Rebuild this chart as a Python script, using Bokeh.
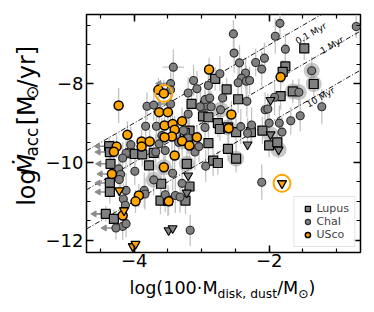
import numpy as np
from bokeh.plotting import figure
from bokeh.layouts import column, row
from bokeh.models import Range1d, LinearAxis, FixedTicker, Label, Legend, LegendItem
from bokeh.core.properties import value
from bokeh.embed import file_html
from bokeh.resources import INLINE

FONT = "DejaVu Sans"

# ---------------- data ----------------
# Lupus (squares)
lup_x = [-1.48, -1.76, -1.83, -1.34, -1.65, -2.63, -2.46, -2.80, -1.80, -3.15, -2.95, -2.98,
         -2.90, -2.76, -2.73, -2.61, -2.49, -2.27, -2.10, -3.18, -2.90, -2.61, -2.49, -2.83,
         -2.76, -3.22, -2.00, -1.88, -4.37, -4.36, -4.35, -4.36, -4.36, -4.42, -4.30, -4.06,
         -3.99, -3.88, -3.71, -3.78, -3.60, -3.61, -3.50, -3.18, -3.24, -3.25, -3.20]
lup_y = [-7.09, -7.55, -8.31, -8.00, -8.19, -8.14, -8.39, -7.87, -7.69, -8.51, -8.55, -8.83,
         -8.85, -9.00, -9.15, -9.11, -9.23, -9.23, -9.19, -9.19, -9.51, -9.66, -9.91, -9.96,
         -10.02, -10.04, -9.57, -9.49, -9.59, -9.74, -10.04, -10.53, -10.76, -11.32, -11.45, -9.77,
         -9.79, -9.80, -9.76, -10.08, -10.55, -10.98, -10.98, -10.62, -10.98, -9.25, -9.42]
lup_err = [0.30, 0.25, 0.35, 0.30, 0.30, 0.30, 0.35, 0.30, 0.30, 0.30, 0.35, 0.30,
           0.40, 0.35, 0.30, 0.30, 0.35, 0.30, 0.35, 0.30, 0.35, 0.30, 0.35, 0.40,
           0.30, 0.35, 0.30, 0.30, 0.25, 0.30, 0.30, 0.30, 0.30, 0.20, 0.25, 0.35,
           0.30, 0.30, 0.35, 0.40, 0.35, 0.35, 0.40, 0.35, 0.35, 0.40, 0.35]

# Cha I (circles)
cha_x = [-0.71, -1.84, -1.91, -1.76, -2.53, -2.52, -2.44, -2.20, -2.07, -2.11, -2.35, -2.41,
         -2.46, -2.34, -2.29, -2.73, -3.12, -3.07, -3.20, -3.42, -3.46, -3.46, -2.95, -2.88,
         -2.69, -3.02, -2.86, -3.81, -3.71, -2.33, -1.92, -2.06, -2.72, -1.68, -1.54, -1.22,
         -1.37, -1.56, -2.26, -2.32, -2.42, -2.02, -1.85, -2.00, -1.81, -3.83, -3.67, -4.05,
         -4.12, -4.17, -3.99, -4.23, -4.20, -4.22, -4.12, -4.16, -4.13, -4.17, -4.27, -4.12,
         -3.85, -3.84, -3.71, -3.43, -3.29, -3.39, -3.32, -3.54, -3.17, -2.11, -2.94, -3.10,
         -3.04, -2.95, -3.20, -3.59, -3.63, -3.34, -3.27, -3.46, -2.90, -3.68, -3.54, -3.20]
cha_y = [-6.53, -6.45, -6.78, -7.11, -6.72, -7.21, -7.46, -7.45, -7.34, -7.62, -7.72, -7.85,
         -7.97, -7.93, -7.91, -7.74, -7.91, -8.12, -8.23, -7.57, -7.99, -8.15, -8.40, -8.36,
         -8.36, -8.58, -8.58, -8.57, -8.54, -8.44, -8.34, -8.66, -8.66, -8.94, -8.81, -8.58,
         -7.66, -8.21, -9.05, -9.26, -9.09, -8.64, -9.00, -9.00, -9.23, -9.08, -9.08, -9.55,
         -9.77, -9.89, -10.23, -10.17, -10.31, -10.44, -10.72, -10.94, -11.10, -11.64, -11.68, -11.57,
         -10.72, -10.81, -10.45, -10.28, -10.54, -10.85, -10.89, -10.83, -11.74, -10.51, -10.10, -9.74,
         -9.60, -9.11, -8.77, -9.32, -9.53, -9.49, -9.19, -8.51, -8.04, -9.74, -9.70, -9.38]
cha_err = [0.30, 0.35, 0.45, 0.40, 0.35, 0.50, 0.45, 0.35, 0.40, 0.45, 0.40, 0.45,
           0.45, 0.40, 0.35, 0.45, 0.40, 0.45, 0.40, 0.45, 0.35, 0.40, 0.45, 0.40,
           0.40, 0.45, 0.40, 0.35, 0.40, 0.40, 0.45, 0.45, 0.40, 0.35, 0.40, 0.45,
           0.35, 0.35, 0.45, 0.40, 0.45, 0.40, 0.45, 0.40, 0.40, 0.45, 0.40, 0.45,
           0.40, 0.40, 0.35, 0.40, 0.40, 0.45, 0.45, 0.40, 0.40, 0.35, 0.30, 0.35,
           0.45, 0.40, 0.40, 0.45, 0.45, 0.45, 0.40, 0.45, 0.40, 0.45, 0.40, 0.45,
           0.40, 0.50, 0.45, 0.45, 0.40, 0.45, 0.40, 0.40, 0.40, 0.45, 0.40, 0.40]
cha_xerr_x = [-3.42]
cha_xerr_y = [-7.57]
cha_xerr = [0.16]

# non-detections in accretion (downward triangles)
lim_x = [-1.98, -2.32, -3.20, -3.22, -3.49, -3.43, -1.98, -1.86]
lim_y = [-8.41, -9.55, -10.34, -10.78, -11.74, -11.69, -9.29, -9.68]

# Upper Sco (orange)
usc_x = [-4.23, -3.64, -3.56, -2.89, -3.63, -3.50, -3.55, -3.43, -3.40, -3.44, -3.55, -3.29,
         -3.29, -3.18, -3.07, -2.56, -2.60, -1.83, -4.10, -3.89, -3.89, -3.77, -4.26, -4.30,
         -4.33, -3.56, -3.40, -3.93, -3.98, -3.49, -4.17]
usc_y = [-8.55, -8.15, -8.24, -7.63, -8.72, -8.72, -9.06, -9.02, -9.17, -9.34, -9.36, -8.95,
         -9.46, -9.57, -9.36, -8.78, -9.13, -7.82, -9.30, -9.47, -9.60, -9.47, -9.60, -9.73,
         -10.30, -10.13, -9.83, -10.85, -11.00, -11.00, -11.36]
usc_err = [0.45, 0.30, 0.35, 0.30, 0.35, 0.30, 0.35, 0.30, 0.35, 0.40, 0.35, 0.35,
           0.40, 0.35, 0.30, 0.35, 0.40, 0.30, 0.35, 0.30, 0.30, 0.30, 0.30, 0.30,
           0.35, 0.40, 0.35, 0.30, 0.30, 0.35, 0.30]
usc_lim_x = [-4.22, -4.15, -4.02, -3.98, -1.81]
usc_lim_y = [-10.72, -11.23, -12.15, -12.09, -10.54]

# disk-mass upper limits (leftward arrows)
xul_x = [-4.37, -4.36, -4.35, -4.33, -4.36, -4.36, -4.42, -4.27, -3.46, -3.46]
xul_y = [-9.59, -9.74, -10.04, -10.30, -10.53, -10.76, -11.32, -11.68, -7.99, -8.51]

# highlighted objects (grey halos / orange rings)
halo_x = [-1.34, -1.65, -2.61, -2.49, -3.22, -2.72, -1.37, -1.56, -3.71, -1.98, -1.86, -3.56, -3.29]
halo_y = [-8.00, -8.19, -9.11, -9.91, -10.04, -8.66, -7.66, -8.21, -10.45, -9.29, -9.68, -10.13, -9.46]
ring_x = [-3.56, -1.81]
ring_y = [-8.24, -10.54]

# isochrone ages (Myr)
ages = [0.1, 1, 10]
age_labels = ["0.1 Myr", "1 Myr", "10 Myr"]

x_major = [-4, -2]
y_major = [-12, -10, -8]

# ---------------- geometry ----------------
X0, X1 = -4.706, -0.647
Y0, Y1 = -12.307, -6.224
TOTAL_W = 366
YW = 42                      # width of the y-title strip
MW = TOTAL_W - YW            # main figure width
BL, BR, BT, BB = 84 - YW, 6, 14, 25
FW = MW - BL - BR            # 276
FH = 238
MH = BT + FH + BB            # 277
XH = 304 - MH                # height of the x-title strip

p = figure(width=MW, height=MH, x_range=Range1d(X0, X1), y_range=Range1d(Y0, Y1),
           output_backend="svg", toolbar_location=None,
           min_border_left=BL, min_border_right=BR, min_border_top=BT, min_border_bottom=BB)
p.grid.visible = False
p.outline_line_color = "black"
p.outline_line_width = 1.5


def minor(lo, hi):
    return list(np.arange(lo, hi + 0.001, 0.5))


def style_axis(ax, show_labels):
    ax.major_tick_in = 7
    ax.major_tick_out = 0
    ax.minor_tick_in = 4
    ax.minor_tick_out = 0
    ax.major_tick_line_width = 1.5
    ax.minor_tick_line_width = 1.2
    ax.axis_line_color = None
    ax.major_label_text_font = FONT
    if show_labels:
        ax.major_label_text_font_size = "18px"
        ax.major_label_text_color = "black"
        ax.major_label_standoff = 3
    else:
        ax.major_label_text_font_size = "0px"
        ax.major_label_text_color = None
        ax.major_label_standoff = 0


p.xaxis.ticker = FixedTicker(ticks=x_major, minor_ticks=minor(-4.5, -1.0))
p.yaxis.ticker = FixedTicker(ticks=y_major, minor_ticks=minor(-12.0, -6.5))
style_axis(p.xaxis[0], True)
style_axis(p.yaxis[0], True)
p.xaxis.major_label_standoff = 1
p.xaxis.major_label_overrides = {v: "\u2212" + str(abs(v)) for v in x_major}
p.yaxis.major_label_overrides = {v: "\u2212" + str(abs(v)) for v in y_major}

top = LinearAxis(ticker=FixedTicker(ticks=x_major, minor_ticks=minor(-4.5, -1.0)))
right = LinearAxis(ticker=FixedTicker(ticks=y_major, minor_ticks=minor(-12.0, -6.5)))
style_axis(top, False)
style_axis(right, False)
p.add_layout(top, "above")
p.add_layout(right, "right")

# ---------------- glyphs ----------------
ERR = "#c4c4c4"
GREY = "#808080"
ORANGE = "#FFA500"

for xs, ys, es in [(lup_x, lup_y, lup_err), (cha_x, cha_y, cha_err), (usc_x, usc_y, usc_err)]:
    xs = np.array(xs); ys = np.array(ys); es = np.array(es)
    p.segment(x0=xs, y0=ys - es, x1=xs, y1=ys + es, line_color=ERR, line_width=1.3)
xe = np.array(cha_xerr)
p.segment(x0=np.array(cha_xerr_x) - xe, y0=cha_xerr_y, x1=np.array(cha_xerr_x) + xe, y1=cha_xerr_y,
          line_color=ERR, line_width=1.3)

p.scatter(halo_x, halo_y, marker="circle", size=16, fill_color="#9a9a9a", fill_alpha=0.55, line_color=None)

xx = np.array([X0, X1])
for a in ages:
    p.line(xx, xx - np.log10(a * 1e6), line_color="black", line_width=0.9, line_dash="5 2 1 2")

ARR = 0.17
xa = np.array(xul_x)
p.segment(x0=xa, y0=xul_y, x1=xa - ARR, y1=xul_y, line_color="#8c8c8c", line_width=1.6)
p.scatter(xa - ARR, xul_y, marker="triangle", angle=np.pi / 2, size=6,
          fill_color="#8c8c8c", line_color="#8c8c8c")

lup_r = p.scatter(lup_x, lup_y, marker="square", size=9, fill_color=GREY, line_color="black", line_width=1.2)
cha_r = p.scatter(cha_x, cha_y, marker="circle", size=8, fill_color=GREY, line_color="#2a2a2a", line_width=1.1)
p.scatter(lim_x, lim_y, marker="inverted_triangle", size=9, fill_color=GREY, line_color="black", line_width=1.1)
usc_r = p.scatter(usc_x, usc_y, marker="circle", size=9, fill_color=ORANGE, line_color="black", line_width=1.5)
p.scatter(usc_lim_x, usc_lim_y, marker="inverted_triangle", size=9, fill_color=ORANGE, line_color="black", line_width=1.3)
p.scatter(ring_x, ring_y, marker="circle", size=17, fill_color=None, line_color=ORANGE, line_width=2)

ang = np.arctan((FH / (Y1 - Y0)) / (FW / (X1 - X0)))
for lab, (lx, ly) in zip(age_labels, [(-1.38, -6.71), (-1.07, -7.01), (-1.24, -8.34)]):
    p.add_layout(Label(x=lx, y=ly, text=lab, angle=ang, text_align="center", text_baseline="middle",
                       text_font=FONT, text_font_size="9px", text_color="black"))

leg_line = p.line([], [], line_color="#999999", line_width=1)
legend = Legend(items=[LegendItem(label="Lupus", renderers=[leg_line, lup_r]),
                       LegendItem(label="ChaI", renderers=[leg_line, cha_r]),
                       LegendItem(label="USco", renderers=[usc_r])],
                location="bottom_right")
legend.label_text_font = FONT
legend.label_text_font_size = "11px"
legend.border_line_color = "#cccccc"
legend.border_line_width = 1
legend.background_fill_alpha = 0.85
legend.padding = 5
legend.spacing = 0
legend.margin = 5
legend.glyph_width = 16
legend.glyph_height = 13
legend.label_standoff = 1
legend.label_height = 13
p.add_layout(legend)

# ---------------- axis titles (text strips) ----------------
EM = {'l': .278, 'o': .612, 'g': .635, '(': .390, ')': .390, '1': .636, '0': .636, '\u00b7': .318,
      'M': .863, 'd': .635, 'i': .278, 's': .521, 'k': .579, ',': .318, ' ': .318, 'u': .634,
      't': .392, '/': .337, 'a': .613, 'c': .550, '[': .390, ']': .390, 'y': .592, 'r': .411,
      '\u2299': .838, '\u1e40': .863}
MID = 0.32      # baseline -> "middle" anchor, in em
ASC = 0.928     # baseline -> "top" anchor, in em


def tw(s, size):
    return sum(EM.get(ch, .6) for ch in s) * size


def strip(w, h):
    f = figure(width=w, height=h, x_range=Range1d(0, w), y_range=Range1d(0, h),
               output_backend="svg", toolbar_location=None, x_axis_type=None, y_axis_type=None,
               min_border=0, min_border_left=0, min_border_right=0, min_border_top=0, min_border_bottom=0)
    f.grid.visible = False
    f.outline_line_color = None
    return f


# x title (main baseline at page y = 294, subscripts 3.5 px lower)
FX = 17.6
SX = 0.7 * FX
xt = strip(TOTAL_W, XH)
xpieces = [("log(100\u00b7M", FX, 0), ("disk, dust", SX, 3.5), ("/M", FX, 0), ("\u2299", SX, 3.5), (")", FX, 0)]
total = sum(tw(t, s) for t, s, _ in xpieces)
xpos = 84 + FW / 2 - total / 2
base = 294 - MH
for t, s, sh in xpieces:
    top_from_strip = base + sh - ASC * s
    xt.text(x=[xpos], y=[XH - top_from_strip], text=[t], text_font=value(FONT), text_font_size=f"{s:.1f}px",
            text_align="left", text_baseline="top", text_color="black")
    xpos += tw(t, s)

# y title (rotated, baseline at x = 34, subscripts 3 px further right)
FY = 24
SY = 0.7 * FY
yt = strip(YW, MH)
ypieces = [("log", FY, 0, "normal", 0.0), ("\u1e40", FY, 0, "italic", 0.0), ("acc", SY, 3, "normal", 0.0),
           ("[M", FY, 0, "normal", 0.318 * FY), ("\u2299", SY, 3, "normal", 0.0), ("/yr]", FY, 0, "normal", 0.0)]
total = sum(tw(t, s) + gap for t, s, _, _, gap in ypieces)
ypos = BT + FH / 2 + total / 2   # from top
ybase = 34.0
for t, s, sh, st, gap in ypieces:
    ypos -= gap
    yt.text(x=[ybase + sh - MID * s], y=[MH - ypos], text=[t], text_font=value(FONT),
            text_font_size=f"{s:.1f}px", angle=np.pi / 2, text_align="left", text_baseline="middle",
            text_color="black", text_font_style=st)
    ypos -= tw(t, s)

layout = column(row(yt, p), xt)
open("out.html", "w").write(file_html(layout, INLINE))
